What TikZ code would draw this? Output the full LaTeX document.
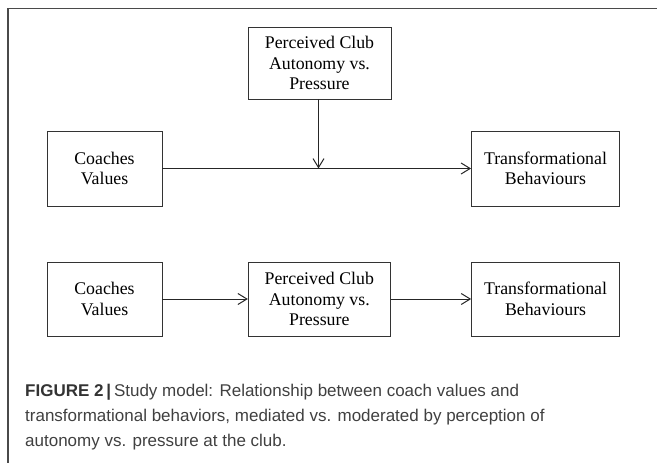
\documentclass[tikz,border=0pt]{standalone}
\usepackage{fontspec}
\setmainfont{Liberation Serif}
\newfontfamily\capfont{Liberation Sans}
\usetikzlibrary{arrows.meta}
\definecolor{framegray}{HTML}{4A4A4A}
\definecolor{boxgray}{HTML}{333333}
\definecolor{captext}{HTML}{404040}
\tikzset{
  modelbox/.style={draw=boxgray, line width=0.9pt, align=center, inner sep=0pt,
    font=\fontsize{17.8}{20.5}\selectfont, text=black},
  conn/.style={draw=black!85, line width=1pt, -{Straight Barb[length=9pt,width=11pt,line width=1pt]}},
  captline/.style={anchor=base west, inner sep=0pt, text=captext,
    font=\capfont\fontsize{17}{25}\selectfont}
}
\begin{document}
\begin{tikzpicture}[x=1pt,y=-1pt]
\useasboundingbox (0,0) rectangle (657,463);
% frame
\draw[framegray, line width=1.5pt] (8,463) -- (8,8.5) -- (657,8.5);
% moderation model
\node[modelbox, minimum width=143pt, minimum height=72pt] (mod) at (319.5,63) {Perceived Club\\Autonomy vs.\\Pressure};
\node[modelbox, minimum width=115pt, minimum height=75pt] (cv1) at (104.5,168.5) {Coaches\\Values};
\node[modelbox, minimum width=148pt, minimum height=75pt] (tb1) at (545.5,168.5) {Transformational\\Behaviours};
\coordinate (junc) at (318.5,168.5);
\draw[conn] (cv1) -- (tb1);
\draw[conn] (mod.south -| junc) -- (junc);
% mediation model
\node[modelbox, minimum width=115pt, minimum height=74pt] (cv2) at (104.5,299) {Coaches\\Values};
\node[modelbox, minimum width=142pt, minimum height=74pt] (med) at (319.3,299) {Perceived Club\\Autonomy vs.\\Pressure};
\node[modelbox, minimum width=148pt, minimum height=74pt] (tb2) at (545.6,299) {Transformational\\Behaviours};
\draw[conn] (cv2) -- (med);
\draw[conn] (med) -- (tb2);
% caption
\node[captline] (cap1) at (25,396) {{\bfseries\color{black!80}FIGURE 2\,|}\,Study model: Relationship between coach values and};
\node[captline] (cap2) at (25,421) {transformational behaviors, mediated vs. moderated by perception of};
\node[captline] (cap3) at (25,446) {autonomy vs. pressure at the club.};
\end{tikzpicture}
\end{document}
